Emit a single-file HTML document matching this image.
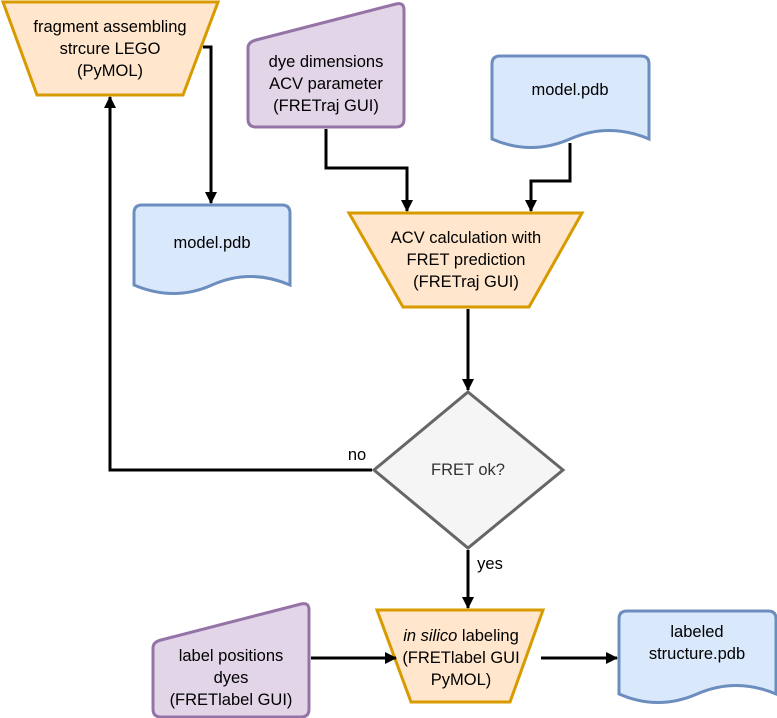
<!DOCTYPE html>
<html><head><meta charset="utf-8"><style>
html,body{margin:0;padding:0;background:#fff}
svg{display:block}
text{font-family:"Liberation Sans","DejaVu Sans",sans-serif;font-size:16.5px;fill:#000;text-anchor:middle}
</style></head><body>
<svg width="777" height="718" viewBox="0 0 777 718" xmlns="http://www.w3.org/2000/svg">
<defs><marker id="a" markerWidth="12" markerHeight="12" refX="11" refY="6" orient="auto" markerUnits="userSpaceOnUse"><path d="M0,0 L12,6 L0,12 z" fill="#000"/></marker></defs>
<polygon points="3,2 218,2 183,95 37,95" fill="#ffe6cc" stroke="#d79b00" stroke-width="3"/>
<polygon points="349,213 582,213 529,307 403,307" fill="#ffe6cc" stroke="#d79b00" stroke-width="3"/>
<polygon points="377,610 543,610 510,702 411,702" fill="#ffe6cc" stroke="#d79b00" stroke-width="3"/>
<path d="M256,40 L396,4 Q404,2 404,10 V119 Q404,127 396,127 H256 Q248,127 248,119 V48 Q248,42 256,40 Z" fill="#e1d5e7" stroke="#9673a6" stroke-width="3"/>
<path d="M161,640 L301,604 Q309,602 309,610 V709 Q309,717 301,717 H161 Q153,717 153,709 V648 Q153,642 161,640 Z" fill="#e1d5e7" stroke="#9673a6" stroke-width="3"/>
<path d="M142,205 H282 Q290,205 290,213 V285 Q250,268 212,285 Q174,302 134,285 V213 Q134,205 142,205 Z" fill="#dae8fc" stroke="#6c8ebf" stroke-width="3"/>
<path d="M500,56 H641 Q649,56 649,64 V139 Q609,122 570,139 Q531,156 492,139 V64 Q492,56 500,56 Z" fill="#dae8fc" stroke="#6c8ebf" stroke-width="3"/>
<path d="M627,611 H768 Q776,611 776,619 V694 Q736,677 697,694 Q658,711 619,694 V619 Q619,611 627,611 Z" fill="#dae8fc" stroke="#6c8ebf" stroke-width="3"/>
<polygon points="468,392 563,470 468,548 374,470" fill="#f5f5f5" stroke="#666" stroke-width="3"/>
<g fill="none" stroke="#000" stroke-width="3">
<path d="M203,47 H211 V203" marker-end="url(#a)"/>
<path d="M326,129 V168 H407 V211" marker-end="url(#a)"/>
<path d="M570,143 V181 H531 V211" marker-end="url(#a)"/>
<path d="M468,309 V390" marker-end="url(#a)"/>
<path d="M372,470 H110 V97" marker-end="url(#a)"/>
<path d="M468,550 V608" marker-end="url(#a)"/>
<path d="M311,658 H396" marker-end="url(#a)"/>
<path d="M541,658 H617" marker-end="url(#a)"/>
</g>
<text x="110" y="32">fragment assembling</text>
<text x="110" y="54">strcure LEGO</text>
<text x="110" y="76">(PyMOL)</text>
<text x="326" y="67">dye dimensions</text>
<text x="326" y="89">ACV parameter</text>
<text x="326" y="111">(FRETraj GUI)</text>
<text x="570" y="95">model.pdb</text>
<text x="212" y="248">model.pdb</text>
<text x="466" y="243">ACV calculation with</text>
<text x="466" y="265">FRET prediction</text>
<text x="466" y="287">(FRETraj GUI)</text>
<text x="468" y="475" style="fill:#333">FRET ok?</text>
<text x="357" y="460">no</text>
<text x="490" y="569">yes</text>
<text x="461" y="641"><tspan font-style="italic">in silico</tspan> labeling</text>
<text x="461" y="663">(FRETlabel GUI</text>
<text x="461" y="685">PyMOL)</text>
<text x="231" y="661">label positions</text>
<text x="231" y="683">dyes</text>
<text x="231" y="705">(FRETlabel GUI)</text>
<text x="697" y="637">labeled</text>
<text x="697" y="659">structure.pdb</text>
</svg>
</body></html>
